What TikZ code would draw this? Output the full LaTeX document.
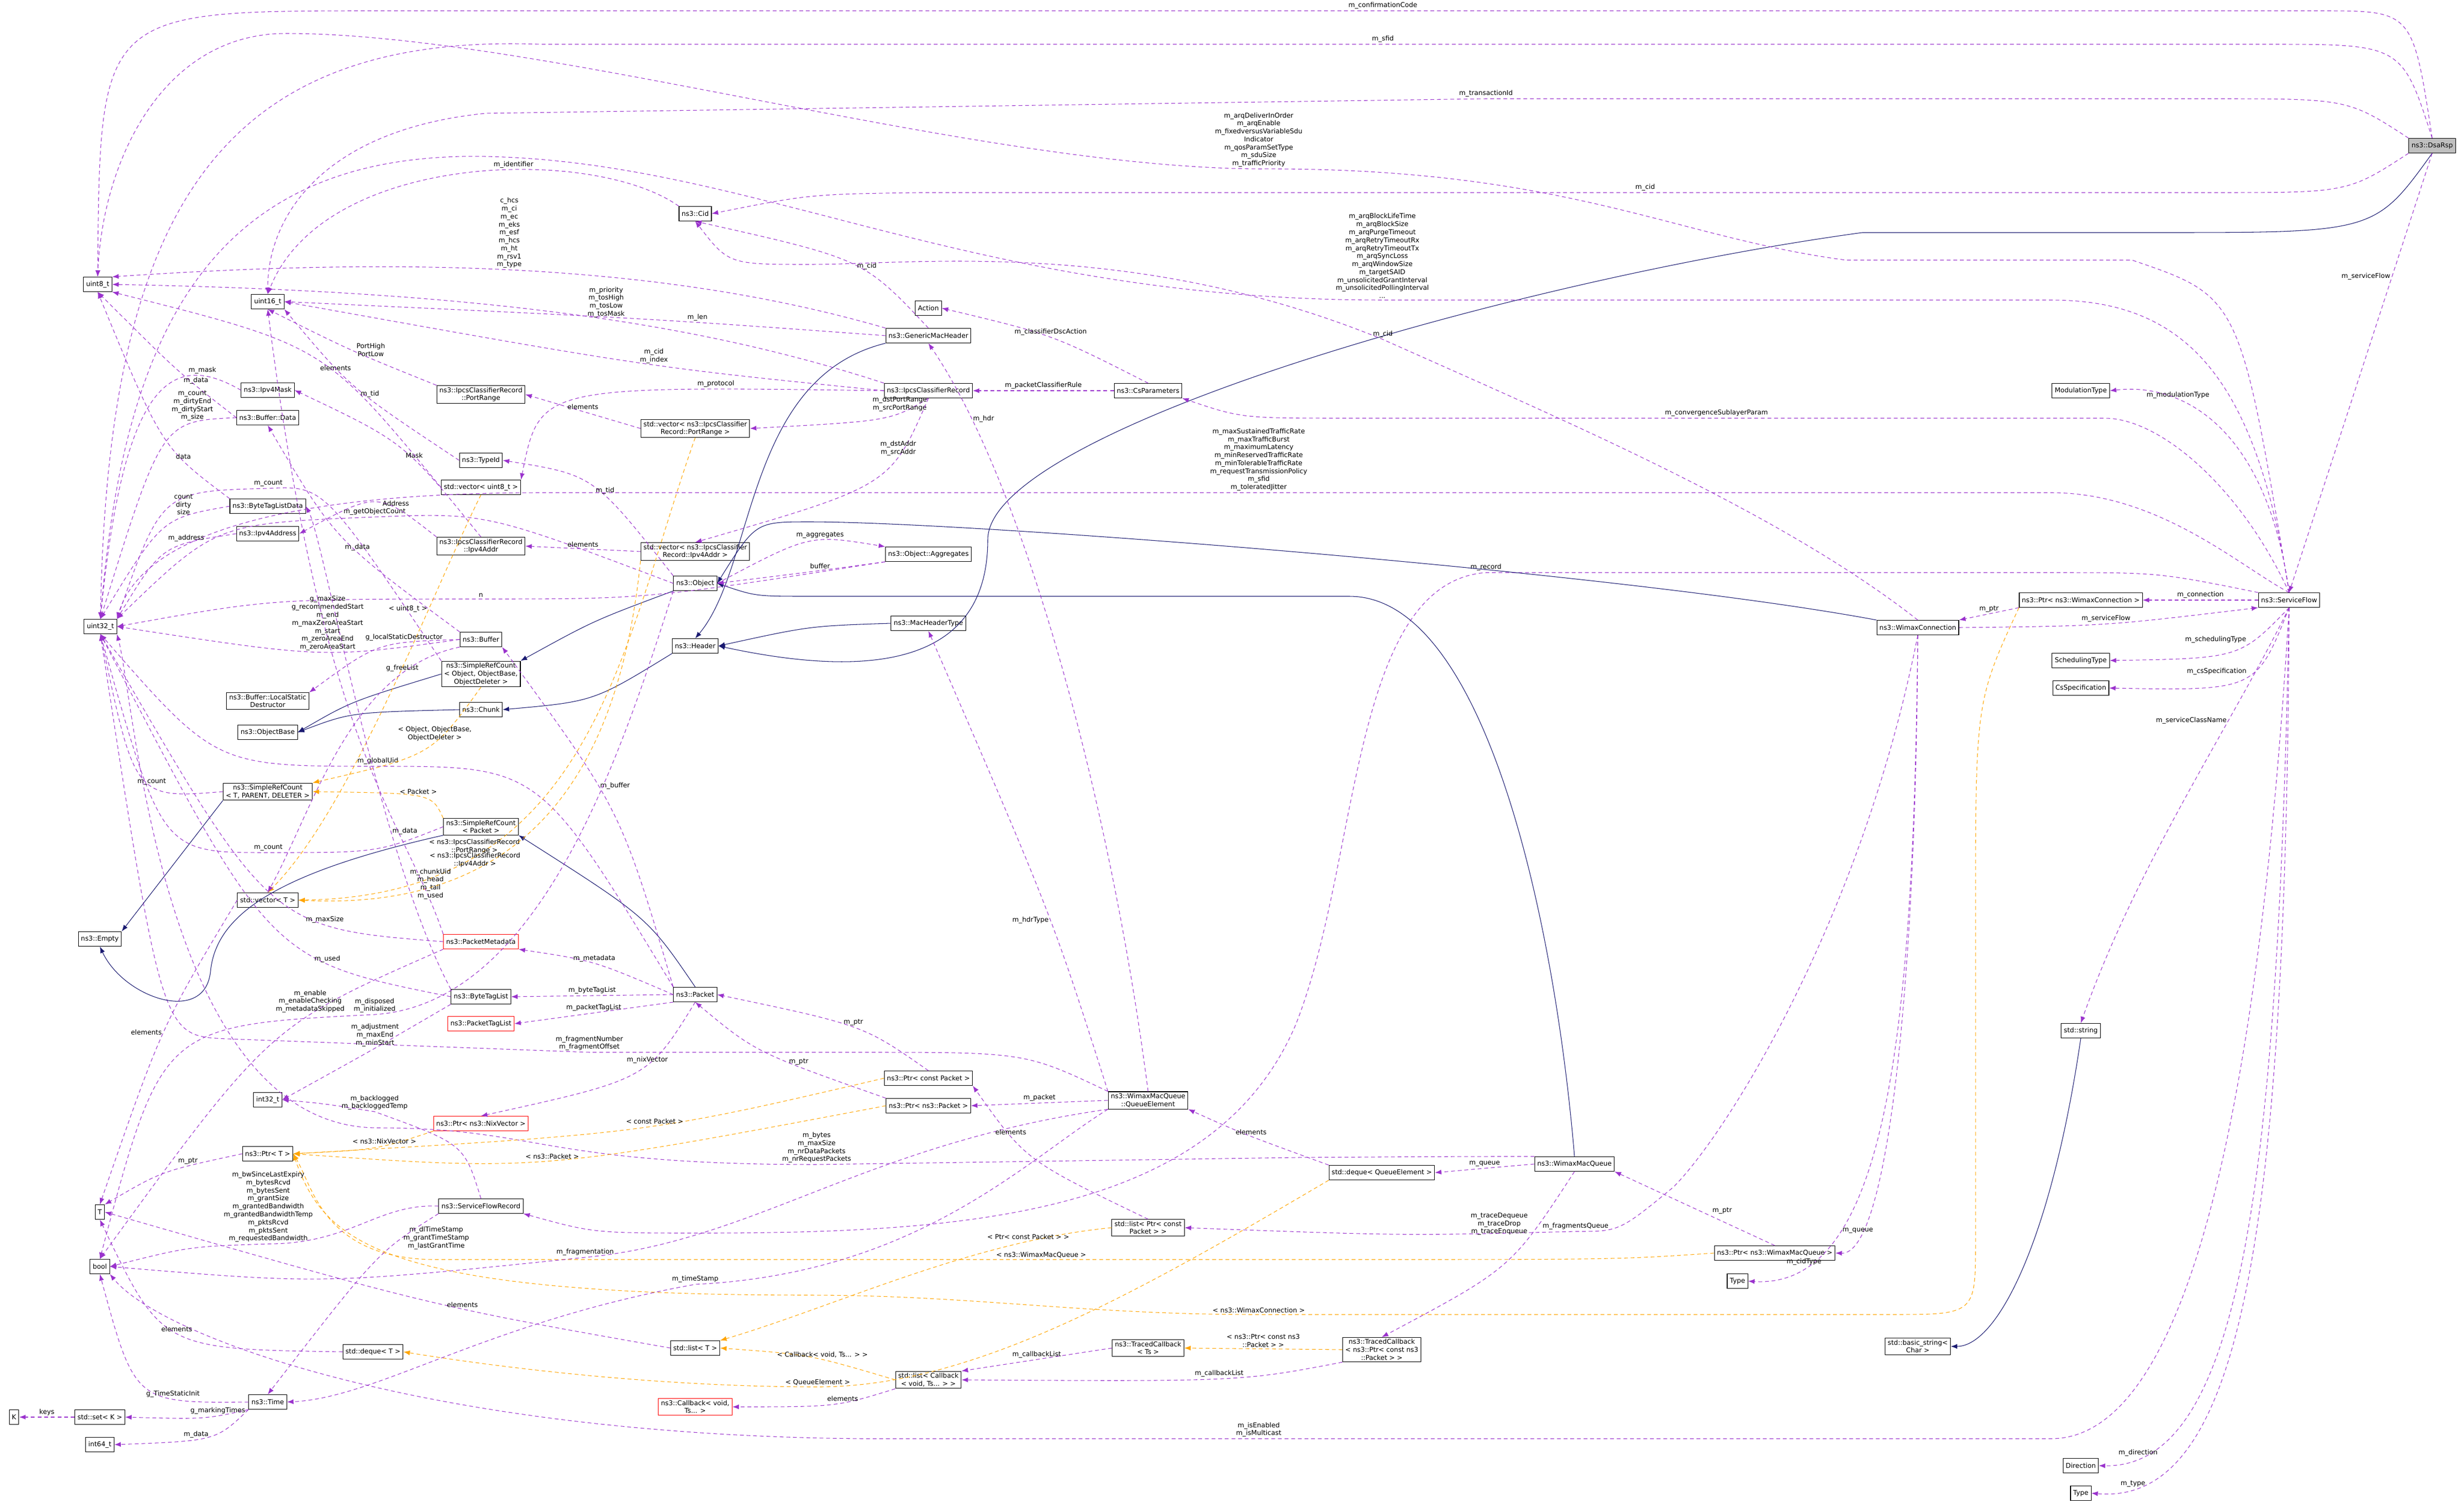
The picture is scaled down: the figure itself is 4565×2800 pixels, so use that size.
\documentclass[tikz,border=0pt]{standalone}
\usepackage{fontspec}
\setmainfont{DejaVu Sans}
\usetikzlibrary{arrows.meta}

\definecolor{mbrcol}{HTML}{9A32CD}
\definecolor{tplcol}{HTML}{FFA500}
\definecolor{inhcol}{HTML}{191970}

\tikzset{
  cls/.style={draw, fill=white, font=\fontsize{3.5}{4.2}\selectfont, inner xsep=1.4pt, inner ysep=0.9pt, minimum height=0.27cm, align=center, line width=0.3pt},
  redcls/.style={cls, draw=red},
  lbl/.style={font=\fontsize{3.5}{4.2}\selectfont, align=center, inner sep=0.8pt, text=black},
  mbr/.style={mbrcol, dashed, dash pattern=on 2pt off 1.5pt, line width=0.3pt, -{Latex[length=0.12cm,width=0.09cm]}},
  tpl/.style={tplcol, dashed, dash pattern=on 2pt off 1.5pt, line width=0.3pt, -{Latex[length=0.12cm,width=0.09cm]}},
  inh/.style={inhcol, line width=0.3pt, -{Latex[length=0.12cm,width=0.09cm]}}
}

\begin{document}
\begin{tikzpicture}[x=0.01cm, y=0.01cm]
  \useasboundingbox (0,0) rectangle (4565,-2800);

  % classes, right part
  \node[cls, fill={rgb,255:red,191;green,191;blue,191}] (dsarsp) at (4506,-270) {ns3::DsaRsp};
  \node[cls] (sflow) at (4241,-1112) {ns3::ServiceFlow};
  \node[cls] (ptrwcon) at (3855,-1112) {ns3::Ptr< ns3::WimaxConnection >};
  \node[cls] (wcon) at (3553,-1163) {ns3::WimaxConnection};
  \node[cls] (modt) at (3855,-724) {ModulationType};
  \node[cls] (schedt) at (3855,-1224) {SchedulingType};
  \node[cls] (csspec) at (3855,-1275) {CsSpecification};
  \node[cls] (str) at (3855,-1910) {std::string};
  \node[cls] (bstr) at (3553,-2495) {std::basic\_string<\\Char >};
  \node[cls] (dir) at (3855,-2716) {Direction};
  \node[cls] (typ2) at (3855,-2767) {Type};
  \node[cls] (ptrwq) at (3288,-2322) {ns3::Ptr< ns3::WimaxMacQueue >};
  \node[cls] (typ1) at (3219,-2374) {Type};
  \node[cls] (wq) at (2917,-2157) {ns3::WimaxMacQueue};
  \node[cls] (dqqe) at (2560,-2173) {std::deque< QueueElement >};
  \node[cls] (qe) at (2127,-2039) {ns3::WimaxMacQueue\\::QueueElement};
  \node[cls] (lstcp) at (2127,-2275) {std::list< Ptr< const\\Packet > >};
  \node[cls] (tcts) at (2127,-2498) {ns3::TracedCallback\\< Ts >};
  \node[cls] (tcpkt) at (2560,-2501) {ns3::TracedCallback\\< ns3::Ptr< const ns3\\::Packet > >};
  \node[cls] (lstcb) at (1720,-2557) {std::list< Callback\\< void, Ts... > >};
  \node[cls] (ptrcp) at (1720,-1998) {ns3::Ptr< const Packet >};
  \node[cls] (ptrp) at (1720,-2049) {ns3::Ptr< ns3::Packet >};
  \node[cls] (action) at (1720,-571) {Action};
  \node[cls] (gmh) at (1720,-622) {ns3::GenericMacHeader};
  \node[cls] (ipcs) at (1720,-724) {ns3::IpcsClassifierRecord};
  \node[cls] (csp) at (2127,-724) {ns3::CsParameters};
  \node[cls] (aggr) at (1720,-1027) {ns3::Object::Aggregates};
  \node[cls] (mht) at (1720,-1155) {ns3::MacHeaderType};

  % classes, middle part
  \node[cls] (cid) at (1288,-396) {ns3::Cid};
  \node[cls] (vprange) at (1288,-794) {std::vector< ns3::IpcsClassifier\\Record::PortRange >};
  \node[cls] (vv4addr) at (1288,-1022) {std::vector< ns3::IpcsClassifier\\Record::Ipv4Addr >};
  \node[cls] (obj) at (1288,-1081) {ns3::Object};
  \node[cls] (header) at (1288,-1197) {ns3::Header};
  \node[cls] (pkt) at (1288,-1843) {ns3::Packet};
  \node[cls] (lstT) at (1288,-2498) {std::list< T >};
  \node[redcls] (cb) at (1288,-2607) {ns3::Callback< void,\\Ts... >};
  \node[cls] (prange) at (891,-731) {ns3::IpcsClassifierRecord\\::PortRange};
  \node[cls] (typeid) at (891,-853) {ns3::TypeId};
  \node[cls] (vecu8) at (891,-903) {std::vector< uint8\_t >};
  \node[cls] (v4addr) at (891,-1012) {ns3::IpcsClassifierRecord\\::Ipv4Addr};
  \node[cls] (buffer) at (891,-1185) {ns3::Buffer};
  \node[cls] (srcobj) at (891,-1249) {ns3::SimpleRefCount\\< Object, ObjectBase,\\ObjectDeleter >};
  \node[cls] (chunk) at (891,-1315) {ns3::Chunk};
  \node[cls] (srcpkt) at (891,-1532) {ns3::SimpleRefCount\\< Packet >};
  \node[redcls] (pmeta) at (891,-1745) {ns3::PacketMetadata};
  \node[cls] (btl) at (891,-1847) {ns3::ByteTagList};
  \node[redcls] (ptl) at (891,-1897) {ns3::PacketTagList};
  \node[redcls] (ptrnix) at (891,-2082) {ns3::Ptr< ns3::NixVector >};
  \node[cls] (sfr) at (891,-2235) {ns3::ServiceFlowRecord};
  \node[cls] (dqT) at (691,-2505) {std::deque< T >};

  % classes, left part
  \node[cls] (u16) at (496,-559) {uint16\_t};
  \node[cls] (mask) at (496,-723) {ns3::Ipv4Mask};
  \node[cls] (bdata) at (496,-774) {ns3::Buffer::Data};
  \node[cls] (btld) at (496,-938) {ns3::ByteTagListData};
  \node[cls] (v4a) at (496,-989) {ns3::Ipv4Address};
  \node[cls] (lsd) at (496,-1299) {ns3::Buffer::LocalStatic\\Destructor};
  \node[cls] (ob) at (496,-1357) {ns3::ObjectBase};
  \node[cls] (srctpd) at (496,-1467) {ns3::SimpleRefCount\\< T, PARENT, DELETER >};
  \node[cls] (vecT) at (496,-1668) {std::vector< T >};
  \node[cls] (i32) at (496,-2038) {int32\_t};
  \node[cls] (ptrT) at (496,-2138) {ns3::Ptr< T >};
  \node[cls] (time) at (496,-2598) {ns3::Time};
  \node[cls] (u8) at (181,-527) {uint8\_t};
  \node[cls] (u32) at (186,-1161) {uint32\_t};
  \node[cls] (empty) at (185,-1740) {ns3::Empty};
  \node[cls] (T) at (185,-2246) {T};
  \node[cls] (bool) at (185,-2347) {bool};
  \node[cls] (K) at (26,-2626) {K};
  \node[cls] (setK) at (185,-2626) {std::set< K >};
  \node[cls] (i64) at (185,-2677) {int64\_t};

  % ns3::DsaRsp
  \draw[mbr] (dsarsp.north) .. controls (4470,-20) .. (4300,-20) -- (2562,-20) node[lbl,above]{m\_confirmationCode} -- (700,-20) .. controls (185,-20) .. (u8.north);
  \draw[mbr] (dsarsp.north) .. controls (4450,-82) .. (4200,-82) -- (2562,-82) node[lbl,above]{m\_sfid} -- (1000,-82) .. controls (400,-60) and (200,-400) .. (u32.north);
  \draw[mbr] (dsarsp.north west) .. controls (4350,-183) .. (4100,-183) -- (2753,-183) node[lbl,above]{m\_transactionId} -- (900,-210) .. controls (600,-240) and (496,-400) .. (u16.north);
  \draw[mbr] (dsarsp.south west) .. controls (4350,-357) .. (4100,-357) -- (3048,-357) node[lbl,above]{m\_cid} -- (1700,-357) .. controls (1500,-360) .. (cid.east);
  \draw[inh] (dsarsp.south) .. controls (4400,-431) .. (4000,-431) -- (3450,-431) .. controls (2800,-520) and (1830,-800) .. (1830,-1000) .. controls (1830,-1240) and (1600,-1255) .. (header.east);
  \draw[mbr] (dsarsp.south) -- node[lbl,pos=0.28,left]{m\_serviceFlow} (sflow.north);

  % ns3::ServiceFlow
  \draw[mbr] (sflow.north) .. controls (4150,-550) .. (3950,-482) -- (3420,-482) .. controls (3100,-440) and (2900,-310) .. (2332,-313) node[lbl,above]{m\_arqDeliverInOrder\\m\_arqEnable\\m\_fixedversusVariableSdu\\Indicator\\m\_qosParamSetType\\m\_sduSize\\m\_trafficPriority} .. controls (1800,-310) and (1000,-62) .. (530,-62) .. controls (300,-62) and (190,-300) .. (u8.north);
  \draw[mbr] (sflow.north) .. controls (4180,-700) and (4050,-556) .. (3800,-556) -- (2561,-556) node[lbl,above]{m\_arqBlockLifeTime\\m\_arqBlockSize\\m\_arqPurgeTimeout\\m\_arqRetryTimeoutRx\\m\_arqRetryTimeoutTx\\m\_arqSyncLoss\\m\_arqWindowSize\\m\_targetSAID\\m\_unsolicitedGrantInterval\\m\_unsolicitedPollingInterval\\...} .. controls (1800,-556) and (1400,-300) .. (900,-290) .. controls (400,-280) and (230,-600) .. (u32.north);
  \draw[mbr] (sflow.north) .. controls (4150,-1050) and (4000,-913) .. (3800,-913) -- (2332,-913) node[lbl,above]{m\_maxSustainedTrafficRate\\m\_maxTrafficBurst\\m\_maximumLatency\\m\_minReservedTrafficRate\\m\_minTolerableTrafficRate\\m\_requestTransmissionPolicy\\m\_sfid\\m\_toleratedJitter} -- (1000,-913) .. controls (500,-913) and (260,-1000) .. (u32.north east);
  \draw[mbr] (sflow.north) .. controls (4150,-900) and (4000,-775) .. (3900,-775) -- (3180,-775) node[lbl,above]{m\_convergenceSublayerParam} -- (2500,-775) .. controls (2300,-775) .. (csp.south east);
  \draw[mbr] (sflow.north west) .. controls (4000,-1061) .. (3800,-1061) -- (2753,-1061) node[lbl,above]{m\_record} .. controls (2500,-1080) and (2520,-1600) .. (2400,-1900) .. controls (2250,-2250) and (1800,-2285) .. (1300,-2285) .. controls (1100,-2285) .. (sfr.south east);
  \draw[mbr] (sflow.north) .. controls (4200,-800) and (4050,-708) .. (modt.east) node[lbl,pos=0.7,above]{m\_modulationType};
  \draw[mbr] (sflow.south) .. controls (4150,-1220) .. (schedt.east) node[lbl,pos=0.35,above left]{m\_schedulingType};
  \draw[mbr] (sflow.south) .. controls (4180,-1280) .. (csspec.east) node[lbl,pos=0.45,above left]{m\_csSpecification};
  \draw[mbr] (sflow.south) .. controls (4130,-1350) and (3960,-1600) .. (str.north) node[lbl,pos=0.3,left]{m\_serviceClassName};
  \draw[mbr] (sflow.west) -- node[lbl,above]{m\_connection} (ptrwcon.east);
  \draw[mbr] (sflow.south) .. controls (4200,-1800) and (4100,-2666) .. (3800,-2666) -- (2332,-2666) node[lbl,above]{m\_isEnabled\\m\_isMulticast} -- (1600,-2666) .. controls (800,-2660) and (300,-2480) .. (bool.south east);
  \draw[mbr] (sflow.south) .. controls (4220,-2200) and (4150,-2720) .. (dir.east) node[lbl,pos=0.9,above]{m\_direction};
  \draw[mbr] (sflow.south) .. controls (4235,-2300) and (4150,-2790) .. (typ2.east) node[lbl,pos=0.9,above]{m\_type};

  % ns3::WimaxConnection
  \draw[mbr] (wcon.east) .. controls (3900,-1160) .. (sflow.south west) node[lbl,pos=0.5,above]{m\_serviceFlow};
  \draw[mbr] (ptrwcon.south west) -- node[lbl,above]{m\_ptr} (wcon.north east);
  \draw[mbr] (wcon.north) .. controls (3300,-950) and (2900,-780) .. (2562,-629) node[lbl,above]{m\_cid} .. controls (2100,-440) and (1700,-490) .. (1500,-490) .. controls (1350,-490) .. (cid.south);
  \draw[inh] (wcon.north west) .. controls (3000,-1060) and (1800,-967) .. (1500,-967) .. controls (1400,-967) .. (obj.east);
  \draw[mbr] (wcon.south) .. controls (3550,-1800) and (3500,-2325) .. (ptrwq.east) node[lbl,pos=0.85,above]{m\_queue};
  \draw[mbr] (wcon.south) .. controls (3545,-1900) and (3500,-2390) .. (typ1.east) node[lbl,pos=0.85,above]{m\_cidType};
  \draw[mbr] (wcon.south) .. controls (3450,-1700) and (3200,-2100) .. (3100,-2200) .. controls (3000,-2282) .. (2919,-2282) node[lbl,above]{m\_fragmentsQueue} .. controls (2600,-2290) .. (lstcp.east);
  \draw[tpl] (ptrwcon.south west) .. controls (3660,-1300) .. (3660,-1700) -- (3660,-2300) .. controls (3660,-2436) .. (3500,-2436) -- (2332,-2436) node[lbl,above]{< ns3::WimaxConnection >} .. controls (2000,-2436) and (1800,-2400) .. (1500,-2400) .. controls (700,-2400) and (600,-2300) .. (ptrT.east);

  % ns3::WimaxMacQueue
  \draw[mbr] (ptrwq.north) -- node[lbl,pos=0.4,above right]{m\_ptr} (wq.south east);
  \draw[tpl] (ptrwq.west) .. controls (3000,-2334) .. (2500,-2334) -- (1929,-2334) node[lbl,above]{< ns3::WimaxMacQueue >} -- (800,-2334) .. controls (600,-2330) and (580,-2200) .. (ptrT.east);
  \draw[inh] (wq.north) .. controls (2880,-1700) and (2750,-1105) .. (2500,-1105) -- (1500,-1105) .. controls (1400,-1105) .. (obj.east);
  \draw[mbr] (wq.west) -- node[lbl,above]{m\_queue} (dqqe.east);
  \draw[mbr] (wq.south) .. controls (2800,-2350) .. (tcpkt.north) node[lbl,pos=0.3,above left]{m\_traceDequeue\\m\_traceDrop\\m\_traceEnqueue};
  \draw[mbr] (wq.north west) .. controls (2700,-2143) .. (2400,-2145) -- (1513,-2158) node[lbl,above]{m\_bytes\\m\_maxSize\\m\_nrDataPackets\\m\_nrRequestPackets} .. controls (1000,-2158) and (1000,-2090) .. (700,-2090) .. controls (300,-2090) and (250,-1300) .. (u32.south east);
  \draw[mbr] (dqqe.north west) .. controls (2300,-2100) .. (qe.south east) node[lbl,pos=0.45,above]{elements};
  \draw[tpl] (dqqe.south west) .. controls (2100,-2400) and (1800,-2570) .. (1515,-2570) node[lbl,above]{< QueueElement >} .. controls (1200,-2570) and (900,-2530) .. (dqT.east);

  % ns3::WimaxMacQueue::QueueElement
  \draw[mbr] (qe.west) -- node[lbl,above]{m\_packet} (ptrp.east);
  \draw[mbr] (qe.north) .. controls (2060,-1500) and (1900,-900) .. (gmh.south) node[lbl,pos=0.85,right]{m\_hdr};
  \draw[mbr] (qe.north west) .. controls (1950,-1700) .. (mht.south) node[lbl,pos=0.45,left]{m\_hdrType};
  \draw[mbr] (qe.north west) .. controls (1900,-1950) .. (1600,-1950) -- (1092,-1950) node[lbl,above]{m\_fragmentNumber\\m\_fragmentOffset} -- (420,-1925) .. controls (300,-1920) .. (u32.south);
  \draw[mbr] (qe.south west) .. controls (1600,-2120) and (1400,-2300) .. (1084,-2330) node[lbl,above]{m\_fragmentation} .. controls (600,-2380) .. (bool.east);
  \draw[mbr] (qe.south west) .. controls (1900,-2150) and (1700,-2360) .. (1288,-2380) node[lbl,above]{m\_timeStamp} .. controls (900,-2450) and (700,-2590) .. (time.east);

  % lists and callbacks
  \draw[mbr] (lstcp.north) .. controls (1900,-2150) .. (ptrcp.south east) node[lbl,pos=0.7,above]{elements};
  \draw[tpl] (lstcp.west) .. controls (1800,-2300) and (1550,-2420) .. (lstT.north east) node[lbl,pos=0.2,above]{< Ptr< const Packet > >};
  \draw[tpl] (tcpkt.west) -- node[lbl,above]{< ns3::Ptr< const ns3\\::Packet > >} (tcts.east);
  \draw[mbr] (tcpkt.south west) .. controls (2300,-2560) .. (lstcb.east) node[lbl,pos=0.5,above]{m\_callbackList};
  \draw[mbr] (tcts.west) -- node[lbl,above]{m\_callbackList} (lstcb.north east);
  \draw[mbr] (lstcb.south west) .. controls (1550,-2607) .. (cb.east) node[lbl,pos=0.4,above]{elements};
  \draw[tpl] (lstcb.west) .. controls (1500,-2510) .. (lstT.east) node[lbl,pos=0.4,above]{< Callback< void, Ts... > >};

  % pointers to packets
  \draw[mbr] (ptrcp.north) .. controls (1600,-1900) .. (pkt.east) node[lbl,pos=0.5,above]{m\_ptr};
  \draw[tpl] (ptrcp.west) .. controls (1200,-2100) .. (ptrT.east) node[lbl,pos=0.45,above]{< const Packet >};
  \draw[mbr] (ptrp.north west) .. controls (1400,-1950) .. (pkt.south) node[lbl,pos=0.3,above]{m\_ptr};
  \draw[tpl] (ptrp.west) .. controls (1000,-2170) .. (ptrT.east) node[lbl,pos=0.5,above]{< ns3::Packet >};

  % ns3::Packet
  \draw[inh] (pkt.north) .. controls (1200,-1700) .. (srcpkt.south east);
  \draw[mbr] (pkt.north west) .. controls (1150,-1500) .. (buffer.south east) node[lbl,pos=0.6,right]{m\_buffer};
  \draw[mbr] (pkt.north west) .. controls (1000,-1420) .. (700,-1420) node[lbl,above]{m\_globalUid} .. controls (400,-1420) .. (u32.south);
  \draw[mbr] (pkt.west) .. controls (1100,-1780) .. (pmeta.south east) node[lbl,pos=0.5,above]{m\_metadata};
  \draw[mbr] (pkt.west) -- node[lbl,above]{m\_byteTagList} (btl.east);
  \draw[mbr] (pkt.south west) -- node[lbl,above]{m\_packetTagList} (ptl.east);
  \draw[mbr] (pkt.south) .. controls (1200,-2000) .. (ptrnix.north) node[lbl,pos=0.4,above]{m\_nixVector};

  % reference counting
  \draw[tpl] (srcpkt.north west) .. controls (800,-1470) .. (srctpd.east) node[lbl,pos=0.5,above]{< Packet >};
  \draw[inh] (srcpkt.south west) .. controls (500,-1620) and (400,-1700) .. (390,-1800) .. controls (380,-1900) and (230,-1850) .. (empty.south);
  \draw[mbr] (srcpkt.west) .. controls (700,-1580) .. (497,-1580) node[lbl,above]{m\_count} .. controls (300,-1580) .. (u32.south);
  \draw[inh] (srctpd.south west) -- (empty.north east);
  \draw[mbr] (srctpd.west) .. controls (250,-1480) .. (u32.south) node[lbl,pos=0.4,above]{m\_count};
  \draw[inh] (srcobj.west) .. controls (650,-1300) .. (ob.east);
  \draw[tpl] (srcobj.south) .. controls (800,-1400) .. (srctpd.north east) node[lbl,pos=0.4,above]{< Object, ObjectBase,\\ObjectDeleter >};
  \draw[mbr] (srcobj.north west) .. controls (600,-900) .. (497,-905) node[lbl,above]{m\_count} .. controls (300,-910) .. (u32.north east);
  \draw[inh] (chunk.west) .. controls (650,-1320) .. (ob.east);
  \draw[inh] (header.south west) .. controls (1100,-1300) .. (chunk.east);
  \draw[inh] (gmh.south west) .. controls (1380,-700) and (1400,-1050) .. (header.north);
  \draw[inh] (mht.west) .. controls (1500,-1160) .. (header.east);

  % ns3::Object
  \draw[inh] (obj.south west) .. controls (1100,-1150) .. (srcobj.north east);
  \draw[mbr] (obj.north west) .. controls (1100,-880) .. (typeid.east) node[lbl,pos=0.4,above]{m\_tid};
  \draw[mbr] (obj.east) .. controls (1500,-990) .. (aggr.north west) node[lbl,pos=0.6,above]{m\_aggregates};
  \draw[mbr] (aggr.south west) .. controls (1500,-1060) .. (obj.east) node[lbl,pos=0.4,above]{buffer};
  \draw[mbr] (aggr.south west) .. controls (1200,-1110) .. (891,-1110) node[lbl,above]{n} .. controls (500,-1110) .. (u32.east);
  \draw[mbr] (obj.west) .. controls (900,-950) .. (694,-958) node[lbl,above]{m\_getObjectCount} .. controls (400,-970) .. (u32.north east);
  \draw[mbr] (obj.south west) .. controls (1150,-1400) and (1000,-1860) .. (694,-1880) node[lbl,above]{m\_disposed\\m\_initialized} .. controls (300,-1900) .. (bool.north);

  % classifier
  \draw[mbr] (csp.north) .. controls (1950,-620) .. (action.east) node[lbl,pos=0.5,above]{m\_classifierDscAction};
  \draw[mbr] (csp.west) -- node[lbl,above]{m\_packetClassifierRule} (ipcs.east);
  \draw[mbr] (ipcs.south) .. controls (1650,-780) .. (vprange.east) node[lbl,pos=0.3,above]{m\_dstPortRange\\m\_srcPortRange};
  \draw[mbr] (ipcs.south) .. controls (1650,-900) .. (vv4addr.north) node[lbl,pos=0.3,above]{m\_dstAddr\\m\_srcAddr};
  \draw[mbr] (ipcs.west) .. controls (1000,-715) .. (vecu8.north east) node[lbl,pos=0.2,above]{m\_protocol};
  \draw[mbr] (ipcs.north west) .. controls (1300,-600) and (900,-540) .. (u8.east) node[lbl,pos=0.45,above]{m\_priority\\m\_tosHigh\\m\_tosLow\\m\_tosMask};
  \draw[mbr] (ipcs.west) .. controls (1200,-680) .. (u16.east) node[lbl,pos=0.45,above]{m\_cid\\m\_index};
  \draw[mbr] (gmh.north west) .. controls (1200,-480) and (700,-480) .. (u8.north east) node[lbl,pos=0.5,above]{c\_hcs\\m\_ci\\m\_ec\\m\_eks\\m\_esf\\m\_hcs\\m\_ht\\m\_rsv1\\m\_type};
  \draw[mbr] (gmh.west) .. controls (1200,-590) .. (u16.east) node[lbl,pos=0.35,above]{m\_len};
  \draw[mbr] (gmh.north) .. controls (1600,-480) .. (cid.south) node[lbl,pos=0.4,above]{m\_cid};
  \draw[mbr] (cid.north west) .. controls (1100,-270) and (600,-280) .. (u16.north) node[lbl,pos=0.4,above]{m\_identifier};
  \draw[mbr] (vprange.west) -- node[lbl,above]{elements} (prange.east);
  \draw[tpl] (vprange.south) .. controls (1150,-1200) and (1100,-1660) .. (vecT.east) node[lbl,pos=0.75,above]{< ns3::IpcsClassifierRecord\\::PortRange >};
  \draw[mbr] (vv4addr.west) -- node[lbl,above]{elements} (v4addr.east);
  \draw[tpl] (vv4addr.south west) .. controls (1150,-1400) and (1000,-1690) .. (vecT.east) node[lbl,pos=0.7,above]{< ns3::IpcsClassifierRecord\\::Ipv4Addr >};
  \draw[mbr] (prange.north west) .. controls (650,-650) .. (u16.south) node[lbl,pos=0.35,above]{PortHigh\\PortLow};
  \draw[mbr] (v4addr.north west) .. controls (700,-910) .. (v4a.east) node[lbl,pos=0.3,above]{Address};
  \draw[mbr] (v4addr.north) .. controls (750,-820) .. (mask.east) node[lbl,pos=0.4,above]{Mask};

  % small helpers
  \draw[mbr] (mask.west) .. controls (320,-650) and (230,-700) .. (u32.north) node[lbl,pos=0.2,above]{m\_mask};
  \draw[mbr] (bdata.west) .. controls (330,-690) .. (u8.south) node[lbl,pos=0.3,above]{m\_data};
  \draw[mbr] (bdata.west) .. controls (300,-780) .. (u32.north) node[lbl,pos=0.25,above]{m\_count\\m\_dirtyEnd\\m\_dirtyStart\\m\_size};
  \draw[mbr] (btld.north west) .. controls (300,-830) .. (u8.south) node[lbl,pos=0.3,above]{data};
  \draw[mbr] (btld.west) .. controls (300,-960) .. (u32.north) node[lbl,pos=0.3,above]{count\\dirty\\size};
  \draw[mbr] (v4a.west) .. controls (300,-1010) .. (u32.north east) node[lbl,pos=0.3,above]{m\_address};
  \draw[mbr] (vecu8.west) .. controls (600,-640) .. (u8.south east) node[lbl,pos=0.4,above]{elements};
  \draw[tpl] (vecu8.south) .. controls (800,-1100) and (650,-1500) .. (vecT.north) node[lbl,pos=0.3,left]{< uint8\_t >};
  \draw[mbr] (typeid.west) .. controls (650,-720) .. (u16.south east) node[lbl,pos=0.4,above]{m\_tid};
  \draw[mbr] (buffer.north west) .. controls (620,-1000) .. (bdata.south) node[lbl,pos=0.4,above]{m\_data};
  \draw[mbr] (buffer.west) .. controls (600,-1220) .. (u32.east) node[lbl,pos=0.45,above]{g\_maxSize\\g\_recommendedStart\\m\_end\\m\_maxZeroAreaStart\\m\_start\\m\_zeroAreaEnd\\m\_zeroAreaStart};
  \draw[mbr] (buffer.west) .. controls (700,-1190) .. (lsd.north east) node[lbl,pos=0.3,above]{g\_localStaticDestructor};
  \draw[mbr] (buffer.south west) .. controls (650,-1240) and (580,-1500) .. (vecT.north) node[lbl,pos=0.2,above]{g\_freeList};
  \draw[mbr] (btl.north west) .. controls (700,-1580) and (600,-1000) .. (btld.east) node[lbl,pos=0.3,right]{m\_data};
  \draw[mbr] (btl.west) .. controls (500,-1780) .. (u32.south) node[lbl,pos=0.3,above]{m\_used};
  \draw[mbr] (btl.south west) .. controls (700,-1940) .. (i32.east) node[lbl,pos=0.5,above]{m\_adjustment\\m\_maxEnd\\m\_minStart};
  \draw[mbr] (pmeta.north west) .. controls (750,-1520) and (600,-1400) .. (u16.south) node[lbl,pos=0.1,above]{m\_chunkUid\\m\_head\\m\_tail\\m\_used};
  \draw[mbr] (pmeta.west) .. controls (500,-1720) .. (u32.south) node[lbl,pos=0.3,above]{m\_maxSize};
  \draw[mbr] (pmeta.south west) .. controls (500,-1900) .. (bool.north) node[lbl,pos=0.35,above]{m\_enable\\m\_enableChecking\\m\_metadataSkipped};
  \draw[tpl] (ptrnix.south west) .. controls (700,-2130) .. (ptrT.east) node[lbl,pos=0.4,above]{< ns3::NixVector >};
  \draw[mbr] (ptrT.west) .. controls (300,-2170) .. (T.north east) node[lbl,pos=0.3,above]{m\_ptr};
  \draw[mbr] (sfr.west) .. controls (700,-2230) and (650,-2305) .. (497,-2305) node[lbl,above]{m\_bwSinceLastExpiry\\m\_bytesRcvd\\m\_bytesSent\\m\_grantSize\\m\_grantedBandwidth\\m\_grantedBandwidthTemp\\m\_pktsRcvd\\m\_pktsSent\\m\_requestedBandwidth} .. controls (350,-2310) .. (bool.east);
  \draw[mbr] (sfr.south west) .. controls (700,-2320) .. (time.north) node[lbl,pos=0.25,right]{m\_dlTimeStamp\\m\_grantTimeStamp\\m\_lastGrantTime};
  \draw[mbr] (sfr.north) .. controls (860,-2120) .. (694,-2060) node[lbl,above]{m\_backlogged\\m\_backloggedTemp} .. controls (600,-2045) .. (i32.east);
  \draw[mbr] (vecT.west) .. controls (300,-1900) .. (T.north) node[lbl,pos=0.5,left]{elements};
  \draw[mbr] (lstT.west) .. controls (800,-2420) .. (T.east) node[lbl,pos=0.4,above]{elements};
  \draw[mbr] (dqT.west) .. controls (300,-2500) .. (T.south) node[lbl,pos=0.5,above]{elements};
  \draw[mbr] (time.west) .. controls (250,-2600) .. (bool.south) node[lbl,pos=0.3,above]{g\_TimeStaticInit};
  \draw[mbr] (time.south west) .. controls (380,-2630) .. (setK.east) node[lbl,pos=0.3,above]{g\_markingTimes};
  \draw[mbr] (time.south west) .. controls (400,-2670) .. (i64.east) node[lbl,pos=0.6,above]{m\_data};
  \draw[mbr] (setK.west) -- node[lbl,above]{keys} (K.east);
  \draw[inh] (str.south) .. controls (3800,-2300) and (3700,-2495) .. (bstr.east);
\end{tikzpicture}
\end{document}
